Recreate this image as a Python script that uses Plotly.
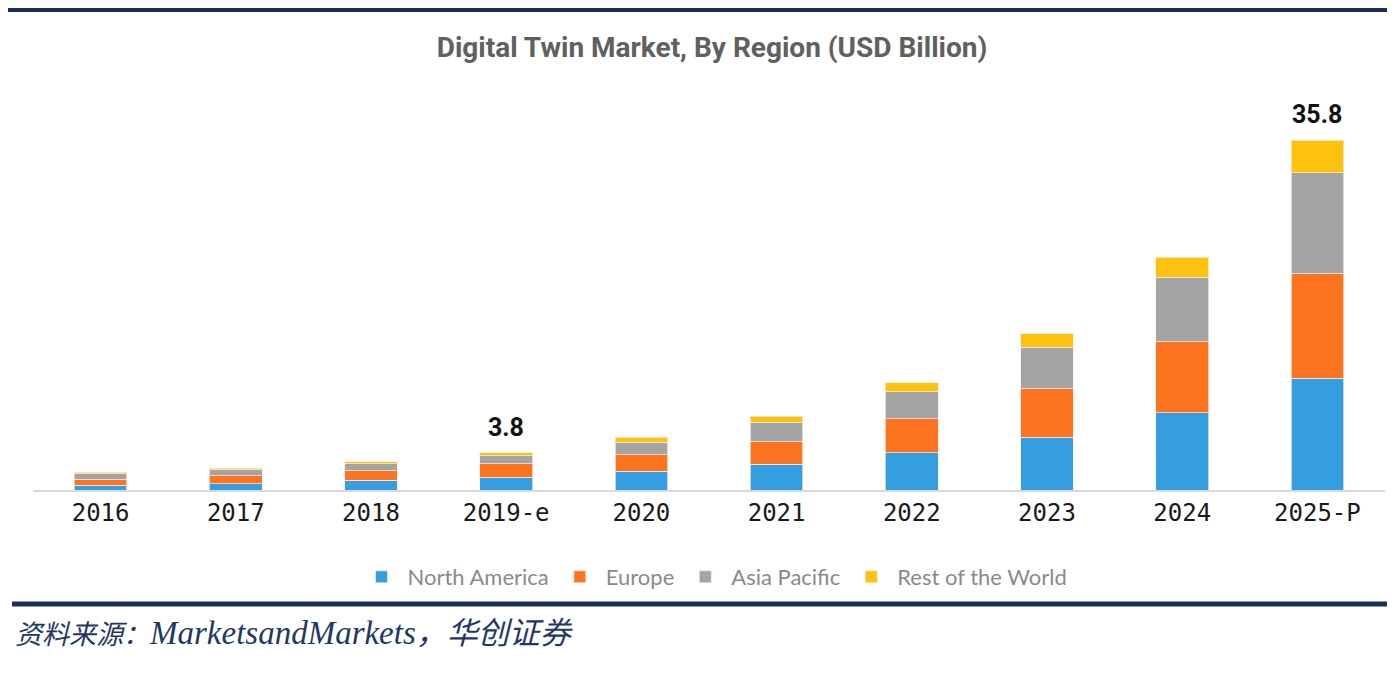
import plotly.graph_objects as go

years = ["2016", "2017", "2018", "2019-e", "2020", "2021", "2022", "2023", "2024", "2025-P"]
north_america = [0.50, 0.65, 1.00, 1.30, 1.90, 2.65, 3.80, 5.40, 7.90, 11.45]
europe        = [0.60, 0.80, 1.00, 1.40, 1.70, 2.35, 3.50, 5.00, 7.25, 10.70]
asia_pacific  = [0.55, 0.60, 0.70, 0.80, 1.30, 1.95, 2.75, 4.20, 6.60, 10.30]
rest_of_world = [0.15, 0.20, 0.20, 0.30, 0.50, 0.60, 0.90, 1.40, 2.05, 3.35]
series_names = ["North America", "Europe", "Asia Pacific", "Rest of the World"]
series_colors = ["#359ee0", "#fd7420", "#a4a4a4", "#fdc110"]
label_years = ["2019-e", "2025-P"]
label_texts = ["3.8", "35.8"]
label_values = [3.8, 35.8]

W, H = 1395, 674
OFF = 8  # page body margin
# target screen coords of plot area: x 33..1385, y 99..490
L, T = 33 - OFF, 99 - OFF
pw, ph = 1352, 391
R = W - L - pw
B = H - T - ph

def px(x):
    return (x - OFF - L) / pw

def py(y):
    return (T + ph - (y - OFF)) / ph

fig = go.Figure()
for name, vals, col in zip(series_names, [north_america, europe, asia_pacific, rest_of_world], series_colors):
    fig.add_trace(go.Bar(
        x=years, y=vals, name=name,
        marker=dict(color=col, line=dict(color="rgba(255,235,225,0.7)", width=1)),
        width=0.39,
    ))

for yr, txt, v in zip(label_years, label_texts, label_values):
    fig.add_annotation(x=yr, y=v, text=txt, showarrow=False, yanchor="bottom", yshift=9,
                       font=dict(family="Liberation Sans Narrow, Roboto, Arial, sans-serif", size=25,
                                 color="#111111", weight="bold"))

src = ('<i><span style="font-size:27px">资料来源：</span>'
       '<span style="font-size:33px">MarketsandMarkets</span>'
       '<span style="font-size:31px">，华创证券</span></i>')
fig.add_annotation(xref="paper", yref="paper", x=px(13), y=py(633), xanchor="left", yanchor="middle",
                   text=src, showarrow=False,
                   font=dict(family="Liberation Serif, Noto Sans CJK SC, serif", size=28, color="#1f3864"))

fig.add_shape(type="rect", xref="paper", yref="paper", x0=px(8), x1=px(1400), y0=py(8), y1=py(12),
              line=dict(width=0), fillcolor="#1b2f57")
fig.add_shape(type="line", xref="paper", yref="paper", x0=px(12), x1=px(1400), y0=py(604), y1=py(604),
              line=dict(color="#1b2f57", width=5))

fig.update_layout(
    width=W, height=H,
    barmode="stack",
    plot_bgcolor="white", paper_bgcolor="white",
    margin=dict(l=L, r=R, t=T, b=B),
    title=dict(text="Digital Twin Market, By Region (USD Billion)", x=(712 - OFF) / W, xanchor="center",
               y=1 - (47 - OFF) / H, yanchor="middle",
               font=dict(family="Liberation Sans Narrow, Roboto, sans-serif", size=28, color="#606060", weight="bold")),
    legend=dict(orientation="h", x=px(714), xanchor="center", y=py(577), yanchor="middle",
                itemwidth=42,
                font=dict(family="Lato, sans-serif", size=22, color="#8a8a8a"), traceorder="normal"),
    xaxis=dict(showline=True, linecolor="#d9d9d9", linewidth=2, ticks="", showgrid=False,
               tickfont=dict(family="DejaVu Sans Mono, monospace", size=24, color="#1a1a1a")),
    yaxis=dict(visible=False, range=[0, 40], showgrid=False, zeroline=False),
    showlegend=True,
)

fig.write_html("out.html")
